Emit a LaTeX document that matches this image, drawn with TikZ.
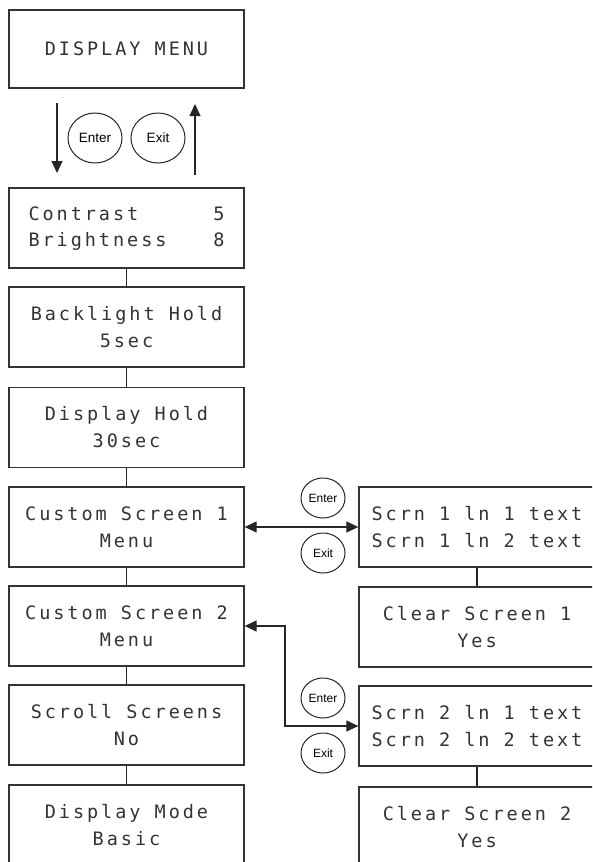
\documentclass[tikz,border=0pt]{standalone}
\usepackage{fontspec}
\setmonofont[LetterSpace=16]{DejaVu Sans Mono}
\newfontfamily\btnfont{Liberation Sans}
\usetikzlibrary{shapes.geometric,arrows.meta}
\begin{document}
\begin{tikzpicture}[x=1pt,y=-1pt,
  line width=1.2pt,
  box/.style={draw=black!80, line width=1.3pt, minimum width=235pt, minimum height=80pt,
    inner sep=0pt, align=center, font=\ttfamily\fontsize{18.5}{27}\selectfont, text=black!80},
  btn/.style={draw=black!85, line width=1pt, ellipse, inner sep=0pt, font=\btnfont},
  bigbtn/.style={btn, minimum width=54pt, minimum height=50pt, font=\btnfont\fontsize{13.5}{13.5}\selectfont},
  smallbtn/.style={btn, minimum width=44pt, minimum height=40pt, font=\btnfont\fontsize{12}{12}\selectfont},
  link/.style={draw=black!85, line width=1.2pt},
  arr/.style={link, -{Triangle[length=12pt,width=11pt]}},
  darr/.style={link, {Triangle[length=12pt,width=11pt]}-{Triangle[length=12pt,width=11pt]}}
]
\useasboundingbox (0,0) rectangle (592,862);
\clip (0,0) rectangle (592,862);

% left column
\node[box, minimum height=78pt] (b1) at (126.5,49) {DISPLAY MENU};
\node[box] (b2) at (126.5,228) {\begin{tabular}{@{}l@{}}\makebox[196pt][l]{Contrast\hfill 5}\\[-0.2pt]\makebox[196pt][l]{Brightness\hfill 8}\end{tabular}};
\node[box] (b3) at (126.5,327) {Backlight Hold\\5sec};
\node[box] (b4) at (126.5,427.5) {Display Hold\\30sec};
\node[box] (b5) at (126.5,527) {Custom Screen 1\\Menu};
\node[box] (b6) at (126.5,626) {Custom Screen 2\\Menu};
\node[box] (b7) at (126.5,725) {Scroll Screens\\No};
\node[box] (b8) at (126.5,825) {Display Mode\\Basic};

% right column
\node[box, minimum width=236pt] (r1) at (477,527) {Scrn 1 ln 1 text\\Scrn 1 ln 2 text};
\node[box, minimum width=236pt] (r2) at (477,627) {Clear Screen 1\\Yes};
\node[box, minimum width=236pt] (r3) at (477,726) {Scrn 2 ln 1 text\\Scrn 2 ln 2 text};
\node[box, minimum width=236pt] (r4) at (477,827) {Clear Screen 2\\Yes};

% vertical links
\draw[link] (b2) -- (b3);
\draw[link] (b3) -- (b4);
\draw[link] (b4) -- (b5);
\draw[link] (b5) -- (b6);
\draw[link] (b6) -- (b7);
\draw[link] (b7) -- (b8);
\draw[link] (r1) -- (r2);
\draw[link] (r3) -- (r4);

% top buttons and arrows
\node[bigbtn] (ent0) at (95,138) {Enter};
\node[bigbtn] (ext0) at (158,138) {Exit};
\coordinate (d1) at (57,103);
\coordinate (d2) at (57,173);
\coordinate (u1) at (195,175);
\coordinate (u2) at (195,104);
\draw[arr] (d1) -- (d2);
\draw[arr] (u1) -- (u2);

% screen 1 buttons and arrow
\node[smallbtn] (ent1) at (323,498) {Enter};
\node[smallbtn] (ext1) at (323,553) {Exit};
\draw[darr] (b5.east) -- (r1.west);

% screen 2 buttons and arrow
\node[smallbtn] (ent2) at (323,698) {Enter};
\node[smallbtn] (ext2) at (323,753) {Exit};
\coordinate (k) at (285,0);
\draw[darr] (b6.east) -- (b6.east -| k) -- (r3.west -| k) -- (r3.west);
\end{tikzpicture}
\end{document}
